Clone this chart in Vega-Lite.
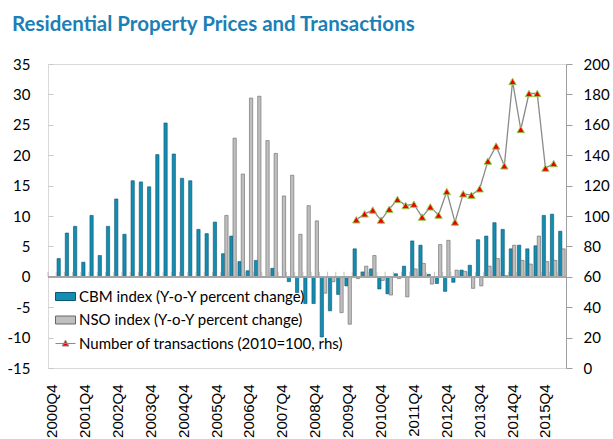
{
  "$schema": "https://vega.github.io/schema/vega-lite/v6.json",
  "width": 518,
  "height": 304,
  "autosize": "none",
  "padding": {"left": 48, "top": 64, "right": 47, "bottom": 71},
  "background": "white",
  "title": {
    "text": "Residential Property Prices and Transactions",
    "anchor": "start",
    "frame": "group",
    "dx": -36,
    "offset": 22,
    "font": "Lato",
    "fontSize": 20.5,
    "fontWeight": "bold",
    "color": "#1c7fb5"
  },
  "data": {
    "values": [
      {"q": "2000Q4", "cbm": null, "nso": null, "tx": null},
      {"q": "2001Q1", "cbm": 3.0, "nso": null, "tx": null},
      {"q": "2001Q2", "cbm": 7.2, "nso": null, "tx": null},
      {"q": "2001Q3", "cbm": 8.3, "nso": null, "tx": null},
      {"q": "2001Q4", "cbm": 2.4, "nso": null, "tx": null},
      {"q": "2002Q1", "cbm": 10.1, "nso": null, "tx": null},
      {"q": "2002Q2", "cbm": 3.5, "nso": null, "tx": null},
      {"q": "2002Q3", "cbm": 8.3, "nso": null, "tx": null},
      {"q": "2002Q4", "cbm": 12.8, "nso": null, "tx": null},
      {"q": "2003Q1", "cbm": 7.0, "nso": null, "tx": null},
      {"q": "2003Q2", "cbm": 15.8, "nso": null, "tx": null},
      {"q": "2003Q3", "cbm": 15.6, "nso": null, "tx": null},
      {"q": "2003Q4", "cbm": 14.8, "nso": null, "tx": null},
      {"q": "2004Q1", "cbm": 20.1, "nso": null, "tx": null},
      {"q": "2004Q2", "cbm": 25.3, "nso": null, "tx": null},
      {"q": "2004Q3", "cbm": 20.2, "nso": null, "tx": null},
      {"q": "2004Q4", "cbm": 16.2, "nso": null, "tx": null},
      {"q": "2005Q1", "cbm": 15.8, "nso": null, "tx": null},
      {"q": "2005Q2", "cbm": 7.8, "nso": null, "tx": null},
      {"q": "2005Q3", "cbm": 7.1, "nso": null, "tx": null},
      {"q": "2005Q4", "cbm": 9.0, "nso": null, "tx": null},
      {"q": "2006Q1", "cbm": 3.8, "nso": 10.1, "tx": null},
      {"q": "2006Q2", "cbm": 6.7, "nso": 22.8, "tx": null},
      {"q": "2006Q3", "cbm": 2.5, "nso": 16.9, "tx": null},
      {"q": "2006Q4", "cbm": 1.0, "nso": 29.4, "tx": null},
      {"q": "2007Q1", "cbm": 2.7, "nso": 29.7, "tx": null},
      {"q": "2007Q2", "cbm": 0, "nso": 22.4, "tx": null},
      {"q": "2007Q3", "cbm": 1.4, "nso": 20.3, "tx": null},
      {"q": "2007Q4", "cbm": 0, "nso": 13.3, "tx": null},
      {"q": "2008Q1", "cbm": -0.8, "nso": 16.7, "tx": null},
      {"q": "2008Q2", "cbm": -2.6, "nso": 7.0, "tx": null},
      {"q": "2008Q3", "cbm": -4.4, "nso": 11.7, "tx": null},
      {"q": "2008Q4", "cbm": -4.4, "nso": 9.2, "tx": null},
      {"q": "2009Q1", "cbm": -9.9, "nso": -2.7, "tx": null},
      {"q": "2009Q2", "cbm": -5.6, "nso": -0.8, "tx": null},
      {"q": "2009Q3", "cbm": -2.9, "nso": -5.9, "tx": null},
      {"q": "2009Q4", "cbm": -1.5, "nso": -7.8, "tx": null},
      {"q": "2010Q1", "cbm": 4.6, "nso": -0.3, "tx": 97.5},
      {"q": "2010Q2", "cbm": 0.8, "nso": 1.75, "tx": 101.4},
      {"q": "2010Q3", "cbm": 1.3, "nso": 3.5, "tx": 103.9},
      {"q": "2010Q4", "cbm": -2.0, "nso": -0.6, "tx": 97.3},
      {"q": "2011Q1", "cbm": -2.8, "nso": -3.0, "tx": 104.5},
      {"q": "2011Q2", "cbm": 0.5, "nso": -0.3, "tx": 110.9},
      {"q": "2011Q3", "cbm": 1.75, "nso": -3.3, "tx": 106.9},
      {"q": "2011Q4", "cbm": 5.9, "nso": 1.3, "tx": 107.8},
      {"q": "2012Q1", "cbm": 5.2, "nso": 2.2, "tx": 99.3},
      {"q": "2012Q2", "cbm": 0.4, "nso": -1.2, "tx": 106.0},
      {"q": "2012Q3", "cbm": -1.1, "nso": 5.3, "tx": 100.6},
      {"q": "2012Q4", "cbm": -2.4, "nso": 6.0, "tx": 116.1},
      {"q": "2013Q1", "cbm": -0.9, "nso": 1.1, "tx": 96.0},
      {"q": "2013Q2", "cbm": 1.1, "nso": 0.9, "tx": 114.6},
      {"q": "2013Q3", "cbm": 1.9, "nso": -1.9, "tx": 113.7},
      {"q": "2013Q4", "cbm": 6.1, "nso": -1.5, "tx": 117.9},
      {"q": "2014Q1", "cbm": 6.7, "nso": 1.75, "tx": 136.1},
      {"q": "2014Q2", "cbm": 8.9, "nso": 3.0, "tx": 146.0},
      {"q": "2014Q3", "cbm": 7.8, "nso": 0.2, "tx": 133.0},
      {"q": "2014Q4", "cbm": 4.6, "nso": 5.2, "tx": 188.5},
      {"q": "2015Q1", "cbm": 5.2, "nso": 2.7, "tx": 156.9},
      {"q": "2015Q2", "cbm": 4.6, "nso": 2.1, "tx": 180.6},
      {"q": "2015Q3", "cbm": 5.1, "nso": 6.7, "tx": 180.6},
      {"q": "2015Q4", "cbm": 10.1, "nso": 2.5, "tx": 131.5},
      {"q": "2016Q1", "cbm": 10.3, "nso": 2.7, "tx": 134.5},
      {"q": "2016Q2", "cbm": 7.5, "nso": 4.6, "tx": null}
    ]
  },
  "encoding": {
    "x": {
      "field": "q", "type": "ordinal",
      "scale": {"paddingInner": 0, "paddingOuter": 0, "domain": ["2000Q4","2001Q1","2001Q2","2001Q3","2001Q4","2002Q1","2002Q2","2002Q3","2002Q4","2003Q1","2003Q2","2003Q3","2003Q4","2004Q1","2004Q2","2004Q3","2004Q4","2005Q1","2005Q2","2005Q3","2005Q4","2006Q1","2006Q2","2006Q3","2006Q4","2007Q1","2007Q2","2007Q3","2007Q4","2008Q1","2008Q2","2008Q3","2008Q4","2009Q1","2009Q2","2009Q3","2009Q4","2010Q1","2010Q2","2010Q3","2010Q4","2011Q1","2011Q2","2011Q3","2011Q4","2012Q1","2012Q2","2012Q3","2012Q4","2013Q1","2013Q2","2013Q3","2013Q4","2014Q1","2014Q2","2014Q3","2014Q4","2015Q1","2015Q2","2015Q3","2015Q4","2016Q1","2016Q2"]},
      "axis": {
        "title": null,
        "values": ["2000Q4","2001Q4","2002Q4","2003Q4","2004Q4","2005Q4","2006Q4","2007Q4","2008Q4","2009Q4","2010Q4","2011Q4","2012Q4","2013Q4","2014Q4","2015Q4"],
        "labelAngle": -90,
        "labelFont": "Liberation Sans",
        "labelFontSize": 15,
        "labelColor": "#000000",
        "labelOverlap": false,
        "ticks": false,
        "domain": false,
        "labelPadding": 16
      }
    }
  },
  "layer": [
    {
      "layer": [
        {
          "transform": [
            {"fold": ["cbm", "nso"], "as": ["key", "value"]},
            {"filter": {"field": "value", "valid": true}}
          ],
          "mark": {"type": "bar", "strokeWidth": 0.6},
          "encoding": {
            "xOffset": {"field": "key", "type": "nominal", "scale": {"domain": ["cbm", "nso"], "paddingOuter": 0.25, "paddingInner": 0}},
            "y": {
              "field": "value", "type": "quantitative",
              "scale": {"domain": [-15, 35], "nice": false, "zero": false},
              "axis": {
                "title": null,
                "values": [-15, -10, -5, 0, 5, 10, 15, 20, 25, 30, 35],
                "tickCount": 20,
                "labelExpr": "'' + datum.value",
                "labelFont": "Lato",
                "labelFontSize": 15,
                "labelColor": "#000000",
                "labelOverlap": false,
                "domain": false,
                "tickColor": "#c8c8c8",
                "tickSize": -5,
                "labelPadding": 23,
                "grid": false
              }
            },
            "fill": {
              "field": "key", "type": "nominal",
              "scale": {"domain": ["cbm", "nso", "tx"], "range": ["#138db1", "#bfbfbf", "#ee0000"]},
              "legend": {
                "orient": "none",
                "legendX": 7,
                "legendY": 222,
                "title": null,
                "direction": "vertical",
                "labelFont": "Lato",
                "labelFontSize": 15,
                "labelColor": "#000000",
                "labelLimit": 400,
                "symbolSize": 400,
                "symbolStrokeWidth": 1,
                "rowPadding": 4.5,
                "padding": 0,
                "labelOffset": 3,
                "labelExpr": "datum.value == 'cbm' ? 'CBM index (Y-o-Y percent change)' : datum.value == 'nso' ? 'NSO index (Y-o-Y percent change)' : 'Number of transactions (2010=100, rhs)'",
                "encode": {
                  "symbols": {
                    "update": {
                      "shape": {"signal": "datum.value == 'tx' ? 'M-1,0H1M0,-0.33L0.33,0.25H-0.33Z' : 'M-1,-0.4H1V0.4H-1Z'"},
                      "stroke": {"signal": "datum.value == 'cbm' ? '#0b5670' : datum.value == 'nso' ? '#666666' : '#8a8a8a'"}
                    }
                  }
                }
              }
            },
            "stroke": {
              "field": "key", "type": "nominal",
              "scale": {"domain": ["cbm", "nso", "tx"], "range": ["#0b5670", "#666666", "#8a8a8a"]},
              "legend": null
            }
          }
        },
        {
          "mark": {"type": "rule", "color": "#a6a6a6", "strokeWidth": 1},
          "encoding": {
            "x": null,
            "y": {"datum": 0, "type": "quantitative"}
          }
        },
        {
          "mark": {"type": "tick", "orient": "vertical", "size": 5, "thickness": 1, "color": "#a6a6a6", "yOffset": -2.5},
          "encoding": {
            "x": {"field": "q", "type": "ordinal", "bandPosition": 0},
            "y": {"datum": 0, "type": "quantitative"}
          }
        }
      ]
    },
    {
      "layer": [
        {
          "transform": [{"filter": {"field": "tx", "valid": true}}],
          "mark": {"type": "line", "color": "#8a8a8a", "strokeWidth": 1.3},
          "encoding": {
            "y": {
              "field": "tx", "type": "quantitative",
              "scale": {"domain": [0, 200], "nice": false},
              "axis": {
                "orient": "right",
                "title": null,
                "values": [0, 20, 40, 60, 80, 100, 120, 140, 160, 180, 200],
                "tickCount": 20,
                "labelFont": "Lato",
                "labelFontSize": 15,
                "labelColor": "#000000",
                "labelOverlap": false,
                "domainColor": "#9e9e9e",
                "tickColor": "#9e9e9e",
                "tickSize": 6,
                "labelPadding": 11,
                "grid": false
              }
            }
          }
        },
        {
          "transform": [
            {"fold": ["tx"], "as": ["key", "value"]},
            {"filter": {"field": "value", "valid": true}}
          ],
          "mark": {"type": "point", "filled": true, "shape": "triangle-up", "size": 55, "stroke": "#92d050", "strokeWidth": 1, "opacity": 1},
          "encoding": {
            "y": {"field": "value", "type": "quantitative", "scale": {"domain": [0, 200], "nice": false}},
            "fill": {"field": "key", "type": "nominal"}
          }
        }
      ]
    }
  ],
  "resolve": {"scale": {"y": "independent"}},
  "config": {
    "view": {"stroke": "#d9d9d9"},
    "axis": {"grid": false}
  }
}
